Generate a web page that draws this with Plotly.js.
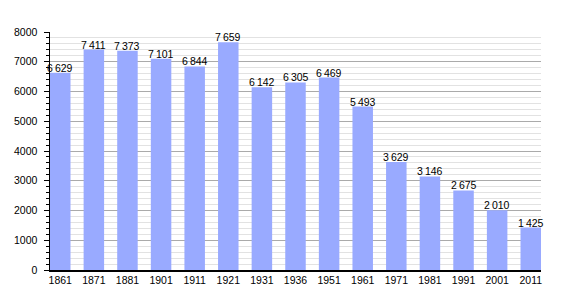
<!DOCTYPE html>
<html>
<head>
<meta charset="utf-8">
<script src="https://cdn.plot.ly/plotly-3.0.1.min.js"></script>
<style>html,body{margin:0;padding:0;background:#fff}#chart{width:570px;height:300px}</style>
</head>
<body>
<div id="chart"></div>
<script>
const years = ["1861","1871","1881","1901","1911","1921","1931","1936","1951","1961","1971","1981","1991","2001","2011"];
const population = [6629,7411,7373,7101,6844,7659,6142,6305,6469,5493,3629,3146,2675,2010,1425];

function fmt(v){
  const s = String(v);
  return s.length > 3 ? s.slice(0, s.length-3) + "\u2009" + s.slice(s.length-3) : s;
}

const trace = {
  type: "bar",
  x: years,
  y: population,
  marker: {color: "#99aaff"},
  hoverinfo: "none"
};

const annotations = years.map((yr, i) => ({
  x: i, y: population[i], xref: "x", yref: "y",
  text: fmt(population[i]), showarrow: false,
  yanchor: "bottom", yshift: -3,
  font: {family: "Liberation Sans, Arial, sans-serif", size: 10.5, color: "#000"}
}));

const layout = {
  width: 570, height: 300,
  margin: {l: 50, r: 29, t: 32, b: 30},
  paper_bgcolor: "#fff", plot_bgcolor: "#fff",
  showlegend: false,
  bargap: 0.39,
  font: {family: "Liberation Sans, Arial, sans-serif", size: 10.5, color: "#000"},
  xaxis: {
    type: "category",
    range: [-0.305, 14.305],
    showline: true, linecolor: "#000", linewidth: 1.5,
    ticks: "", showgrid: false, zeroline: false,
    tickfont: {size: 10.5}
  },
  yaxis: {
    range: [0, 8000],
    dtick: 1000, tick0: 0,
    showline: true, linecolor: "#000", linewidth: 1.5,
    ticks: "outside", ticklen: 5, tickcolor: "#000", tickwidth: 1,
    showgrid: true, gridcolor: "#aaaaaa", gridwidth: 1,
    zeroline: false,
    ticklabelstandoff: 4,
    tickfont: {size: 10.5},
    minor: {dtick: 200, ticks: "outside", ticklen: 3, tickcolor: "#000", showgrid: true, gridcolor: "#e2e2e2", gridwidth: 1}
  },
  annotations: annotations
};

Plotly.newPlot("chart", [trace], layout, {staticPlot: true, displayModeBar: false});
</script>
</body>
</html>
